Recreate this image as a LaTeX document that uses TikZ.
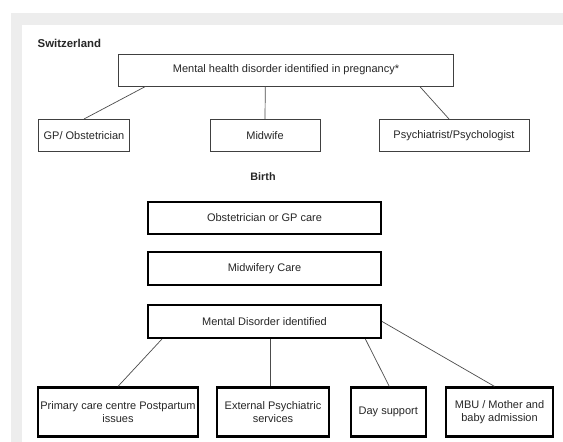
\documentclass[tikz,border=0pt]{standalone}
\usepackage{fontspec}
\setmainfont{Liberation Sans}
\begin{document}
\begin{tikzpicture}[x=1pt,y=-1pt,
  font=\fontsize{11}{13}\selectfont,
  txt/.style={text=black!85},
  thinbox/.style={draw=black!75, line width=0.8pt, minimum height=32pt, inner sep=0pt, align=center, txt},
  thickbox/.style={draw=black, line width=2.2pt, inner sep=0pt, align=center, txt},
  conn/.style={draw=black!70, line width=0.7pt}]
\useasboundingbox (0,0) rectangle (563,442);
\fill[black!7] (11,13) rectangle (563,442);
\fill[white] (22,25) rectangle (563,442);

\node[anchor=west, font=\fontsize{11.4}{13}\selectfont\bfseries, txt, inner sep=0pt] (sw) at (37.5,43) {Switzerland};

\node[thinbox, minimum width=335pt] (top) at (286,70) {Mental health disorder identified in pregnancy*};
\node[thinbox, minimum width=91pt] (gp) at (84,135.4) {GP/ Obstetrician};
\node[thinbox, minimum width=110pt] (mw) at (265,135.4) {Midwife};
\node[thinbox, minimum width=150pt] (psy) at (454,135.4) {Psychiatrist/Psychologist};

\draw[conn] ([xshift=27.5pt]top.south west) -- (gp.north);
\draw[conn] ([xshift=-20.7pt]top.south) -- (mw.north);
\draw[conn] ([xshift=-34.2pt]top.south east) -- ([xshift=-5pt]psy.north);

\node[font=\fontsize{10.8}{13}\selectfont\bfseries, txt] (birth) at (263,177) {Birth};

\node[thickbox, minimum width=233pt, minimum height=32pt] (obs) at (264.5,218) {Obstetrician or GP care};
\node[thickbox, minimum width=233pt, minimum height=33pt] (mwc) at (264.5,268.5) {Midwifery Care};
\node[thickbox, minimum width=233pt, minimum height=33pt] (md) at (264.5,321.5) {Mental Disorder identified};

\node[thickbox, minimum width=160pt, minimum height=49pt] (pc) at (118,412) {Primary care centre Postpartum\\issues};
\node[thickbox, minimum width=112.5pt, minimum height=49pt] (ext) at (273,412) {External Psychiatric\\services};
\node[thickbox, minimum width=75pt, minimum height=49pt] (day) at (388.3,412) {Day support};
\node[thickbox, minimum width=107pt, minimum height=49pt] (mbu) at (499.5,412) {MBU / Mother and\\baby admission};

\draw[conn] ([xshift=15pt]md.south west) -- (pc.north);
\draw[conn] ([xshift=5.5pt]md.south) -- ([xshift=-3pt]ext.north);
\draw[conn] ([xshift=-16.7pt]md.south east) -- ([xshift=1pt]day.north);
\draw[conn] (md.east) -- ([xshift=-5pt]mbu.north);
\end{tikzpicture}
\end{document}
